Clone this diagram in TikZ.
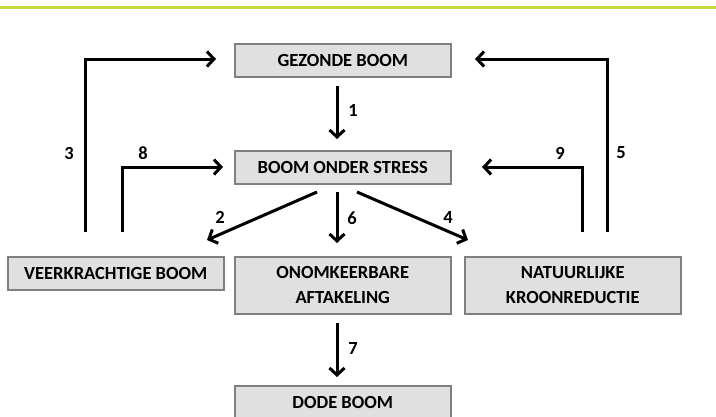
\documentclass[tikz,border=0pt]{standalone}
\usepackage{fontspec}
\setmainfont{Carlito}
\usetikzlibrary{arrows.meta}
\definecolor{topgreen}{HTML}{C9D93B}
\definecolor{boxfill}{HTML}{E0E0E0}
\definecolor{boxline}{HTML}{808080}
\tikzset{
  stepbox/.style={draw=boxline, line width=1.5pt, fill=boxfill, inner sep=0pt,
    font=\fontsize{18.5}{25}\selectfont\bfseries, align=center, anchor=north west},
  flow/.style={line width=3pt, -{Straight Barb[length=7pt,width=15pt,line width=3pt]}},
  num/.style={font=\fontsize{18.5}{22}\selectfont\bfseries, inner sep=0pt}
}
\begin{document}
\begin{tikzpicture}[x=1pt,y=-1pt]
\useasboundingbox (0,0) rectangle (716,416);
\fill[white] (0,0) rectangle (716,416);
\draw[topgreen, line width=3pt] (0,7) -- (716,7);
% boxes
\node[stepbox, minimum width=216pt, minimum height=33pt] (gezond) at (234,43) {GEZONDE BOOM};
\node[stepbox, minimum width=216pt, minimum height=33pt] (stress) at (234,150) {BOOM ONDER STRESS};
\node[stepbox, minimum width=216pt, minimum height=33pt] (veer) at (7,256) {VEERKRACHTIGE BOOM};
\node[stepbox, minimum width=216pt, minimum height=57pt] (onom) at (234,256) {ONOMKEERBARE\\AFTAKELING};
\node[stepbox, minimum width=216pt, minimum height=57pt] (natuur) at (464,256) {NATUURLIJKE\\KROONREDUCTIE};
\node[stepbox, minimum width=216pt, minimum height=40pt, text depth=13pt, text height=19pt] (dode) at (234,385) {DODE BOOM};
% coordinates
\coordinate (a1s) at (337,86);   \coordinate (a1e) at (337,139);
\coordinate (a6s) at (337,192);  \coordinate (a6e) at (337,243);
\coordinate (a2s) at (317,192);  \coordinate (a2e) at (207,240);
\coordinate (a4s) at (357,192);  \coordinate (a4e) at (468,240);
\coordinate (a7s) at (337,323);  \coordinate (a7e) at (337,377);
\coordinate (a3s) at (85,232);   \coordinate (a3e) at (216,59);
\coordinate (a8s) at (122,232);  \coordinate (a8e) at (223,167);
\coordinate (a5s) at (607,232);  \coordinate (a5e) at (475,59);
\coordinate (a9s) at (582,232);  \coordinate (a9e) at (482,167);
% arrows
\draw[flow] (a1s) -- (a1e);
\draw[flow] (a6s) -- (a6e);
\draw[flow] (a2s) -- (a2e);
\draw[flow] (a4s) -- (a4e);
\draw[flow] (a7s) -- (a7e);
\draw[flow] (a3s) |- (a3e);
\draw[flow] (a8s) |- (a8e);
\draw[flow] (a5s) |- (a5e);
\draw[flow] (a9s) |- (a9e);
% labels
\node[num] (n1) at (353,110) {1};
\node[num] (n6) at (352,218) {6};
\node[num] (n2) at (220,217) {2};
\node[num] (n4) at (448,217) {4};
\node[num] (n3) at (69,153) {3};
\node[num] (n8) at (143,153) {8};
\node[num] (n5) at (621,153) {5};
\node[num] (n9) at (560,153) {9};
\node[num] (n7) at (353,348) {7};
\end{tikzpicture}
\end{document}
